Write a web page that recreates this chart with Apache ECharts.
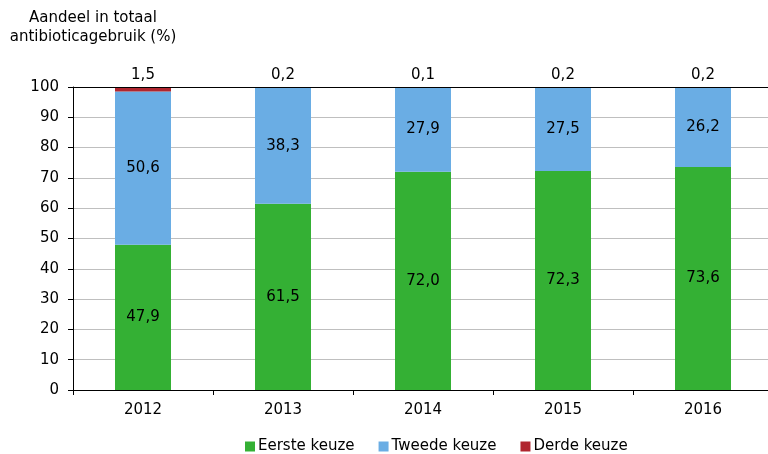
<!DOCTYPE html>
<html>
<head>
<meta charset="utf-8">
<script src="https://cdn.jsdelivr.net/npm/echarts@6/dist/echarts.min.js"></script>
<style>
  html, body { margin: 0; padding: 0; background: #fff; overflow: hidden; }
  #chart { width: 790px; height: 454px; }
</style>
</head>
<body>
<div id="chart"></div>
<script>
const years = ['2012', '2013', '2014', '2015', '2016']
const eerste = [47.9, 61.5, 72.0, 72.3, 73.6]
const tweede = [50.6, 38.3, 27.9, 27.5, 26.2]
const derde = [1.5, 0.2, 0.1, 0.2, 0.2]
const yTicks = [0, 10, 20, 30, 40, 50, 60, 70, 80, 90, 100]

const font = 'DejaVu Sans, Verdana, sans-serif'
const fmt = (p) => p.value.toFixed(1).replace('.', ',')

const chart = echarts.init(document.getElementById('chart'))
chart.setOption({
  animation: false,
  textStyle: { fontFamily: font },
  title: {
    text: 'Aandeel in totaal\nantibioticagebruik (%)',
    left: 88,
    top: 4,
    textAlign: 'center',
    textStyle: { fontFamily: font, fontSize: 15, fontWeight: 'normal', color: '#000', lineHeight: 19 },
  },
  legend: {
    bottom: -5,
    left: 240,
    itemWidth: 10,
    itemHeight: 10,
    itemGap: 24,
    icon: 'rect',
    textStyle: { fontFamily: font, fontSize: 15, color: '#000', padding: [0, 0, 0, -2] },
    data: ['Eerste keuze', 'Tweede keuze', 'Derde keuze'],
  },
  // the last category runs past the window edge, like the reference
  grid: { left: 73, top: 87, width: 700, height: 303 },
  xAxis: {
    type: 'category',
    data: years,
    axisLine: { lineStyle: { color: '#000' } },
    axisTick: { show: true, length: 5, lineStyle: { color: '#000' } },
    axisLabel: { color: '#000', fontSize: 15, fontFamily: font, margin: 13 },
  },
  yAxis: {
    type: 'value',
    min: yTicks[0],
    max: yTicks[yTicks.length - 1],
    interval: 10,
    axisLine: { show: true, lineStyle: { color: '#000' } },
    axisTick: { show: true, length: 5, lineStyle: { color: '#000' } },
    axisLabel: { color: '#000', fontSize: 15, fontFamily: font, margin: 14 },
    splitLine: { lineStyle: { color: '#bfbfbf', width: 1 } },
  },
  series: [
    {
      name: 'Eerste keuze',
      type: 'bar',
      stack: 'a',
      barWidth: '40%',
      itemStyle: { color: '#34b034' },
      label: { show: true, position: 'inside', color: '#000', fontSize: 15, fontFamily: font, formatter: fmt },
      data: eerste,
      markLine: {
        silent: true,
        symbol: 'none',
        label: { show: false },
        lineStyle: { color: '#000', width: 1, type: 'solid' },
        data: [{ yAxis: 100 }],
      },
    },
    {
      name: 'Tweede keuze',
      type: 'bar',
      stack: 'a',
      itemStyle: { color: '#6aade4' },
      label: { show: true, position: 'inside', color: '#000', fontSize: 15, fontFamily: font, formatter: fmt },
      data: tweede,
    },
    {
      name: 'Derde keuze',
      type: 'bar',
      stack: 'a',
      itemStyle: { color: '#b0262f' },
      label: { show: true, position: 'top', distance: 4, color: '#000', fontSize: 15, fontFamily: font, formatter: fmt },
      data: derde,
    },
  ],
})
</script>
</body>
</html>
